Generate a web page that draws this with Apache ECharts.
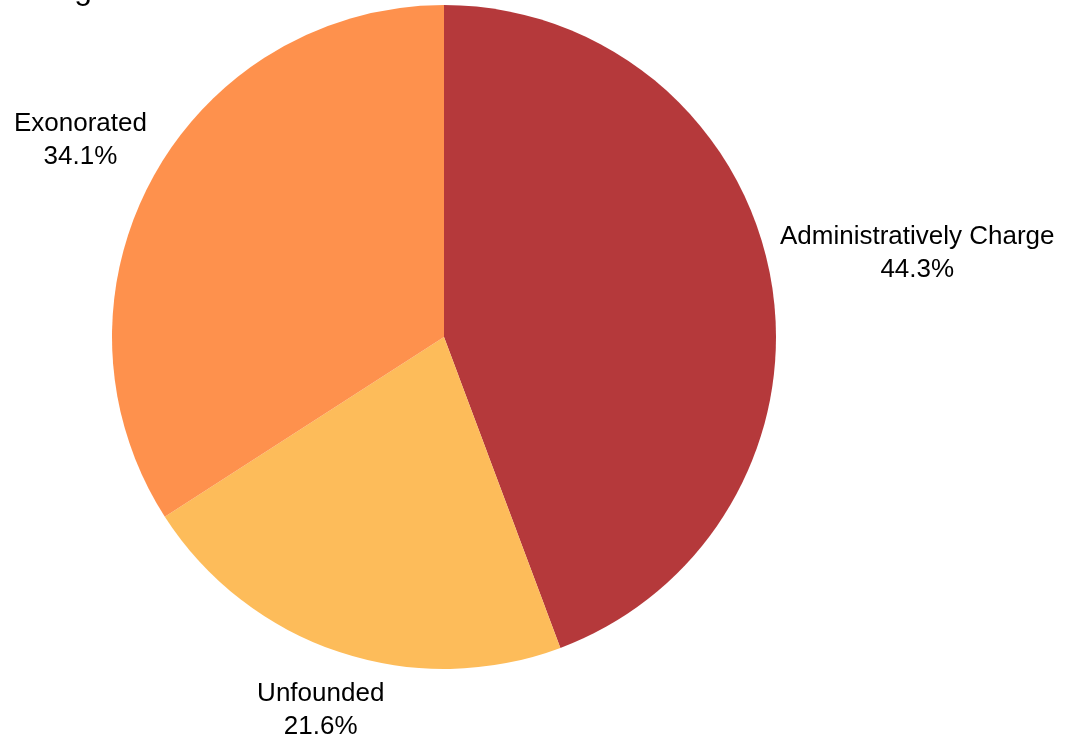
<!DOCTYPE html>
<html>
<head>
<meta charset="utf-8">
<script src="https://cdn.jsdelivr.net/npm/echarts@6/dist/echarts.min.js"></script>
<style>html,body{margin:0;padding:0;background:#fff}#c{width:1077px;height:736px}</style>
</head>
<body>
<div id="c"></div>
<script>
const categories = ['Administratively Charge', 'Unfounded', 'Exonorated'];
const values = [44.3, 21.6, 34.1];
const colors = ['#b5393b', '#fdbc5a', '#fe914d'];
const titleText = 'Charge Outcomes';

const chart = echarts.init(document.getElementById('c'), null, {renderer: 'canvas'});
const GAP = 8;
const SHIFT_Y = 2;
chart.setOption({
  backgroundColor: '#ffffff',
  animation: false,
  title: {
    text: titleText, left: 0, top: -31,
    textStyle: {fontFamily: 'Liberation Sans', fontSize: 32, fontWeight: 'normal', color: '#000'}
  },
  series: [{
    type: 'pie',
    center: [444, 337],
    radius: 332,
    startAngle: 90,
    clockwise: true,
    data: categories.map((n, i) => ({name: n, value: values[i], itemStyle: {color: colors[i]}})),
    label: {
      show: true, position: 'outside', overflow: 'none', edgeDistance: 0, bleedMargin: 0,
      formatter: p => p.name + '\n' + p.value.toFixed(1) + '%',
      fontFamily: 'Liberation Sans', fontSize: 26, color: '#000', lineHeight: 33
    },
    labelLine: {show: true, length: 10, length2: 0, lineStyle: {color: 'rgba(0,0,0,0)', width: 0}},
    labelLayout: function (params) {
      const pts = params.labelLinePoints;
      const lr = params.labelRect;
      if (!pts) return {};
      const p0 = pts[0], p1 = pts[1];
      let dx = p1[0] - p0[0], dy = p1[1] - p0[1];
      const len = Math.sqrt(dx * dx + dy * dy) || 1;
      dx /= len; dy /= len;
      const ext = lr.width / 2 * Math.abs(dx) + lr.height / 2 * Math.abs(dy);
      return {
        x: p0[0] + dx * (ext + GAP),
        y: p0[1] + dy * (ext + GAP) + SHIFT_Y,
        align: 'center', verticalAlign: 'middle'
      };
    },
    emphasis: {disabled: true}
  }]
});
</script>
</body>
</html>
